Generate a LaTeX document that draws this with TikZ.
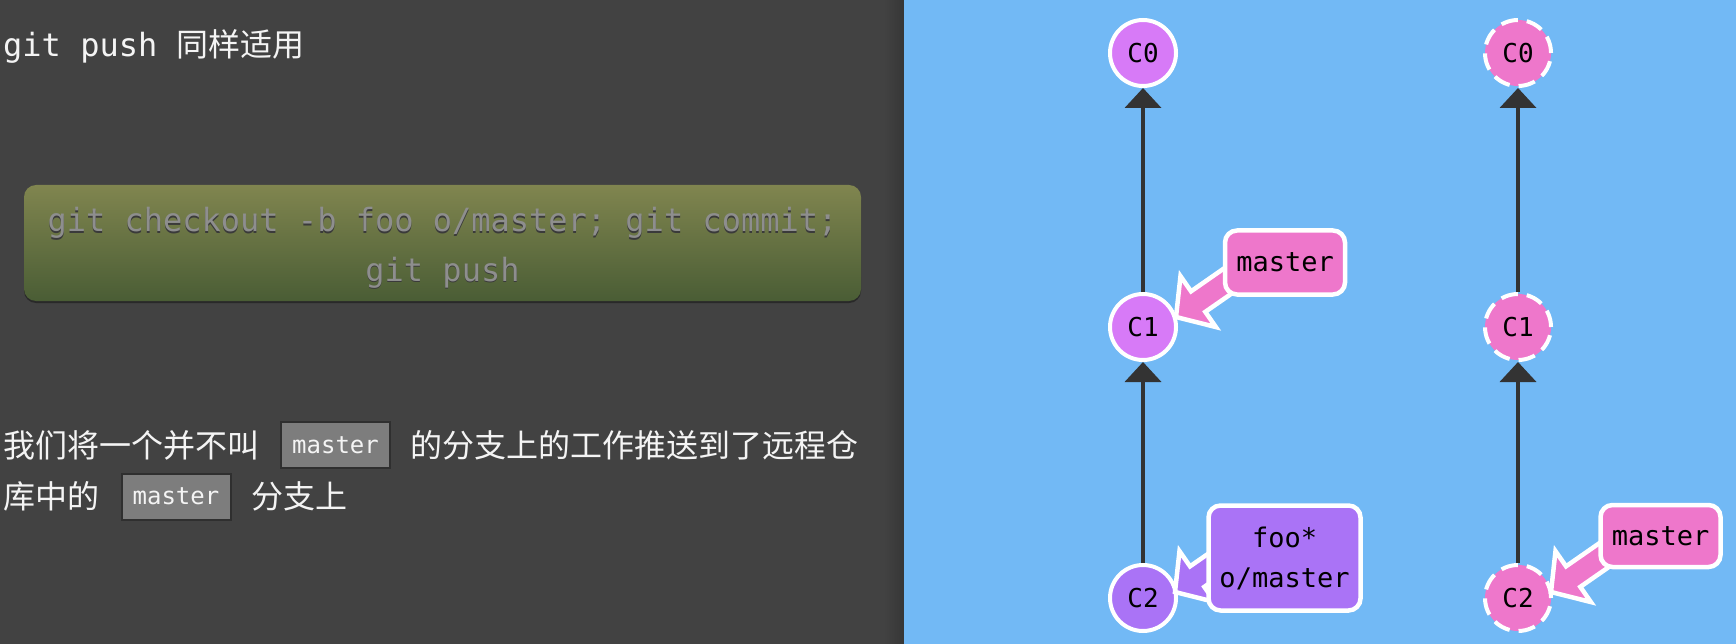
\documentclass[tikz,border=0pt]{standalone}
\usepackage{fontspec}
\setmonofont{DejaVu Sans Mono}
\newfontfamily\cjk{Noto Sans CJK SC}
\usetikzlibrary{calc,arrows.meta}
\definecolor{panel}{HTML}{424242}
\definecolor{panelEdge}{HTML}{363636}
\definecolor{sky}{HTML}{72B9F5}
\definecolor{cOrchid}{HTML}{D77AF7}
\definecolor{cPurple}{HTML}{AA73F6}
\definecolor{cPink}{HTML}{EE77CB}
\definecolor{cLine}{HTML}{333333}
\definecolor{gTop}{HTML}{80854F}
\definecolor{gBot}{HTML}{4A5D35}
\definecolor{cmdText}{HTML}{8E8E8E}
\definecolor{cmdShadow}{HTML}{3A3A3A}
\definecolor{codeFill}{HTML}{7D7D7D}
\definecolor{codeBorder}{HTML}{2F2F2F}
\definecolor{txt}{HTML}{F4F4F4}
\newcommand{\fatarrow}[3]{%
  \coordinate (fab) at ($(#2)!27pt!(#1)$);
  \filldraw[fill=#3, draw=white, line width=4.5pt, line join=miter, miter limit=10]
    ($(#1)!12.5pt!90:(#2)$) -- ($(fab)!12.5pt!90:(#2)$) -- ($(fab)!31pt!90:(#2)$) -- (#2)
    -- ($(fab)!31pt!-90:(#2)$) -- ($(fab)!12.5pt!-90:(#2)$) -- ($(#1)!12.5pt!-90:(#2)$) -- cycle;
}
\begin{document}
\begin{tikzpicture}[x=1pt,y=-1pt,
  commit/.style={circle, minimum size=66pt, inner sep=0pt, draw=white, line width=4pt,
    font=\ttfamily\fontsize{26}{26}\selectfont, text=black},
  ghost/.style={commit, dash pattern=on 17pt off 9pt},
  parentlink/.style={cLine, line width=4pt, -{Triangle[length=20pt,width=36pt]}},
  lbl/.style={rectangle, rounded corners=12pt, draw=white, line width=4.5pt, inner sep=0pt,
    font=\ttfamily\fontsize{27}{40}\selectfont, align=center, text=black},
  bigtext/.style={anchor=base west, inner sep=0pt, text=txt, font=\fontsize{32}{38}\selectfont},
  codebox/.style={rectangle, fill=codeFill, draw=codeBorder, line width=2pt, inner sep=0pt,
    minimum width=109pt, minimum height=46pt, text=txt, font=\ttfamily\fontsize{24}{24}\selectfont},
  cmdline/.style={anchor=base, inner sep=0pt, font=\ttfamily\fontsize{32}{38}\selectfont}
]
\useasboundingbox (0,0) rectangle (1736,644);
% backgrounds
\fill[panel] (0,0) rectangle (904,644);
\shade[left color=panel, right color=panelEdge] (884,0) rectangle (904,644);
\fill[sky] (904,0) rectangle (1736,644);

% left text
\node[bigtext] (title) at (3,57) {\ttfamily git push \cjk 同样适用};

\fill[cmdShadow!70!black, rounded corners=12pt] (24,188) rectangle (861,303);
\node[rectangle, rounded corners=12pt, top color=gTop, bottom color=gBot, minimum width=837pt,
  minimum height=116pt, inner sep=0pt] (cmd) at (442.5,243) {};
\node[cmdline, text=cmdShadow] at (442.5,233.5) {git checkout -b foo o/master; git commit;};
\node[cmdline, text=cmdText] (cmdA) at (442.5,232) {git checkout -b foo o/master; git commit;};
\node[cmdline, text=cmdShadow] at (442.5,282.5) {git push};
\node[cmdline, text=cmdText] (cmdB) at (442.5,281) {git push};

\node[bigtext] (p1a) at (3,457) {\cjk 我们将一个并不叫};
\node[codebox] (k1) at (335.5,445) {master};
\node[bigtext] (p1b) at (410,457) {\cjk 的分支上的工作推送到了远程仓};
\node[bigtext] (p2a) at (3,508) {\cjk 库中的};
\node[codebox] (k2) at (176,496.5) {master};
\node[bigtext] (p2b) at (251,508) {\cjk 分支上};

% left graph (local)
\node[commit, fill=cOrchid] (LC0) at (1143,53) {C0};
\node[commit, fill=cOrchid] (LC1) at (1143,327) {C1};
\node[commit, fill=cPurple] (LC2) at (1143,598) {C2};
\draw[parentlink] (LC1) -- (LC0);
\draw[parentlink] (LC2) -- (LC1);

% right graph (remote)
\node[ghost, fill=cPink] (RC0) at (1518,53) {C0};
\node[ghost, fill=cPink] (RC1) at (1518,327) {C1};
\node[ghost, fill=cPink] (RC2) at (1518,598) {C2};
\draw[parentlink] (RC1) -- (RC0);
\draw[parentlink] (RC2) -- (RC1);

% branch label arrows
\coordinate (t1) at ($(LC1)+(33,-10)$);
\coordinate (s1) at ($(t1)+(82,-57)$);
\coordinate (t2) at ($(LC2)+(32,-6)$);
\coordinate (s2) at ($(t2)+(82,-57)$);
\coordinate (t3) at ($(RC2)+(33,-6)$);
\coordinate (s3) at ($(t3)+(82,-57)$);
\fatarrow{s1}{t1}{cPink}
\fatarrow{s2}{t2}{cPurple}
\fatarrow{s3}{t3}{cPink}

% branch labels
\node[lbl, fill=cPink, minimum width=120pt, minimum height=64pt] (Lmaster) at (1285,262.5) {master};
\node[lbl, fill=cPurple, minimum width=152pt, minimum height=105pt] (Lfoo) at (1284.5,558) {foo*\\o/master};
\node[lbl, fill=cPink, minimum width=120pt, minimum height=62pt] (Rmaster) at (1660.5,536) {master};
\end{tikzpicture}
\end{document}
